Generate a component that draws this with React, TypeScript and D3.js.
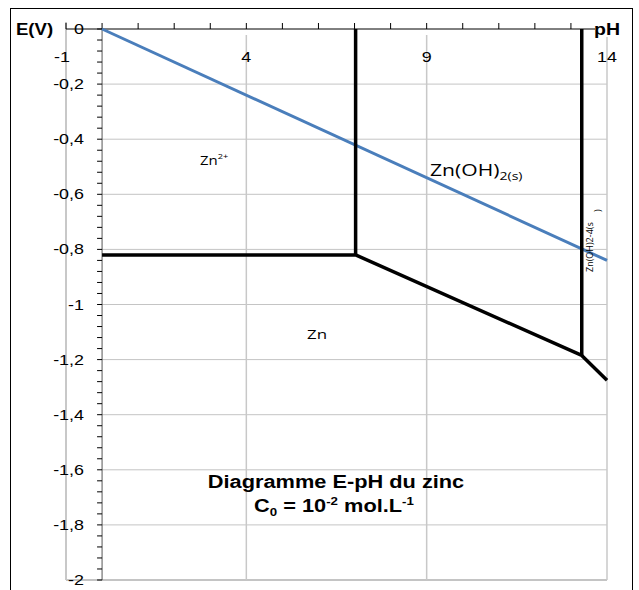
import * as d3 from "d3";
import React from "react";

// axes
const phGrid = [-1, 4, 9, 14];
const phLabels = ["-1", "4", "9", "14"];
const eGrid = [0, -0.2, -0.4, -0.6, -0.8, -1, -1.2, -1.4, -1.6, -1.8, -2];
const eLabels = ["0", "-0,2", "-0,4", "-0,6", "-0,8", "-1", "-1,2", "-1,4", "-1,6", "-1,8", "-2"];

// frontiers (pH, E)
const waterLine: [number, number][] = [[0, 0], [14, -0.84]];
const zincLine: [number, number][] = [[0, -0.82], [7.03, -0.82], [13.3, -1.185], [14, -1.275]];
const hydroxideFrontier: [number, number][] = [[7.03, 0], [7.03, -0.82]];
const zincateFrontier: [number, number][] = [[13.3, 0], [13.3, -1.185]];

const width = 639;
const height = 590;
const sans = "Liberation Sans, Arial, sans-serif";
const label = "Open Sans, sans-serif";

// the original picture is stretched sideways, so every text is too
const Stretch = ({ x, y, sx = 1.22, children }: any) => (
  <g transform={`translate(${x},${y}) scale(${sx},1)`}>{children}</g>
);

export default function App() {
  const x = d3.scaleLinear().domain([-1, 14]).range([66, 607]);
  const y = d3.scaleLinear().domain([-2, 0]).range([580, 29]);

  const line = d3
    .line<[number, number]>()
    .x((d) => x(d[0]))
    .y((d) => y(d[1]));

  const minorX = d3.range(-1, 15);
  const minorY = d3.range(0, 51).map((i) => -i * 0.04);

  return (
    <svg
      width={width}
      height={height}
      style={{ position: "absolute", left: 0, top: 0, background: "#fff" }}
    >
      <rect x={10.5} y={8.5} width={622} height={600} fill="none" stroke="#000" strokeWidth={1} />

      {/* grid */}
      {eGrid.slice(1, -1).map((e) => (
        <line key={"h" + e} x1={x(0)} x2={x(14)} y1={y(e)} y2={y(e)} stroke="#c4c4c4" strokeWidth={1} />
      ))}
      <line x1={x(-1)} x2={x(14)} y1={y(-2)} y2={y(-2)} stroke="#c4c4c4" strokeWidth={2} />
      {phGrid.map((p) => (
        <line
          key={"v" + p}
          x1={x(p)}
          x2={x(p)}
          y1={p === -1 ? 22 : y(0) + 6}
          y2={y(-2)}
          stroke="#c8c8c8"
          strokeWidth={p === -1 ? 2 : 1.5}
        />
      ))}

      {/* axes */}
      <line x1={x(-1)} x2={x(14)} y1={y(0)} y2={y(0)} stroke="#000" strokeWidth={1} />
      <line x1={x(0)} x2={x(0)} y1={y(0)} y2={y(-2)} stroke="#555" strokeWidth={1} />
      {minorX.map((p) => (
        <line key={"tx" + p} x1={x(p)} x2={x(p)} y1={y(0) - 6} y2={y(0)} stroke="#000" strokeWidth={1} />
      ))}
      {minorY.map((e, i) => (
        <line key={"ty" + i} x1={x(0) - 5} x2={x(0)} y1={y(e)} y2={y(e)} stroke="#000" strokeWidth={1} />
      ))}
      {phGrid.map((p, i) => (
        <Stretch key={"lx" + p} x={x(p) - (p < 0 ? 4 : 0)} y={62} sx={1.28}>
          <text textAnchor="middle" fontFamily={sans} fontSize={14} fill="#000">
            {phLabels[i]}
          </text>
        </Stretch>
      ))}
      {eGrid.map((e, i) => (
        <Stretch key={"ly" + e} x={84} y={y(e)} sx={1.28}>
          <text dy="0.36em" textAnchor="end" fontFamily={sans} fontSize={14} fill="#000">
            {eLabels[i]}
          </text>
        </Stretch>
      ))}

      {/* frontiers */}
      <path d={line(waterLine) ?? ""} fill="none" stroke="#4a7ebb" strokeWidth={3} />
      <path d={line(zincLine) ?? ""} fill="none" stroke="#000" strokeWidth={3.5} strokeLinejoin="round" />
      <path d={line(hydroxideFrontier) ?? ""} fill="none" stroke="#000" strokeWidth={3.5} />
      <path d={line(zincateFrontier) ?? ""} fill="none" stroke="#000" strokeWidth={3.5} />

      {/* axis titles */}
      <Stretch x={16} y={35} sx={1.16}>
        <text fontFamily={sans} fontWeight="bold" fontSize={16} fill="#000">
          E(V)
        </text>
      </Stretch>
      <rect x={595} y={19} width={26} height={18} fill="#fff" />
      <Stretch x={594} y={35}>
        <text fontFamily={sans} fontWeight="bold" fontSize={16} fill="#000">
          pH
        </text>
      </Stretch>

      {/* species */}
      <Stretch x={200} y={165} sx={1.15}>
        <text fontFamily={label} fontSize={13} fill="#000">
          Zn
          <tspan fontSize={8} dy={-6}>2+</tspan>
        </text>
      </Stretch>
      <Stretch x={430} y={176} sx={1.28}>
        <text fontFamily={label} fontSize={16.5} fill="#000">
          Zn(OH)
          <tspan fontSize={11} dy={4}>2(s)</tspan>
        </text>
      </Stretch>
      <Stretch x={307} y={339} sx={1.25}>
        <text fontFamily={label} fontSize={13.5} fill="#000">
          Zn
        </text>
      </Stretch>
      <text transform="translate(593,272) rotate(-90)" fontFamily={label} fontSize={9} fill="#000">
        Zn(OH)2-4(s
      </text>
      <text transform="translate(601,212) rotate(-90)" fontFamily={label} fontSize={9} fill="#000">
        )
      </text>

      {/* title */}
      <Stretch x={336} y={488} sx={1.21}>
        <text textAnchor="middle" fontFamily={sans} fontWeight="bold" fontSize={18} fill="#000">
          Diagramme E-pH du zinc
        </text>
      </Stretch>
      <Stretch x={334} y={512} sx={1.21}>
        <text textAnchor="middle" fontFamily={sans} fontWeight="bold" fontSize={18} fill="#000">
          C<tspan fontSize={11} dy={4}>0</tspan>
          <tspan dy={-4}> = 10</tspan>
          <tspan fontSize={11} dy={-7}>-2</tspan>
          <tspan dy={7}> mol.L</tspan>
          <tspan fontSize={11} dy={-7}>-1</tspan>
        </text>
      </Stretch>
    </svg>
  );
}
